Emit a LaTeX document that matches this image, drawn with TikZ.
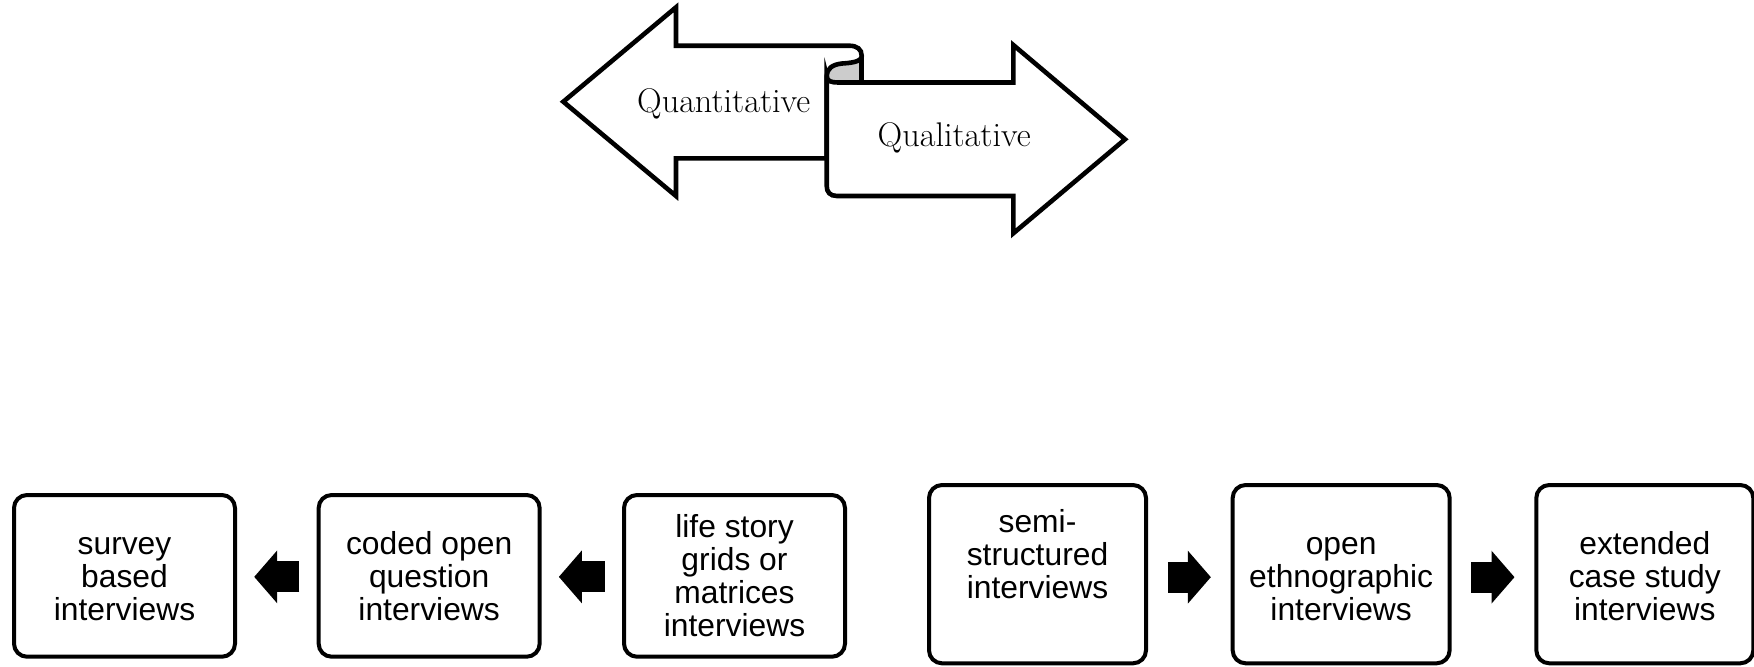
\documentclass[tikz,border=0pt]{standalone}
\usepackage{fontspec}
\setsansfont{Liberation Sans}
\usetikzlibrary{arrows.meta}

% struts that fix where the first and last text lines sit in a box
\newcommand\firststrut{\rule{0pt}{15pt}}
\newcommand\laststrut{\rule[-3.6pt]{0pt}{3.6pt}}
\newcommand\tallstrut{\rule[-1.6pt]{0pt}{1.6pt}}
\newcommand\deepstrut{\rule[-23.6pt]{0pt}{23.6pt}}

\begin{document}
\begin{tikzpicture}[
  x=0.5pt, y=-0.5pt,
  bigarrow/.style={draw=black, fill=white, line width=2.3pt, line join=miter},
  curlshade/.style={fill=black!20},
  bannertext/.style={anchor=base, inner sep=0pt, font=\fontsize{17.1}{20}\selectfont},
  stagebox/.style={draw=black, line width=2pt, rounded corners=6.5pt, fill=white,
    align=center, inner sep=0pt, font=\sffamily\fontsize{15.9}{16.5}\selectfont},
  lbox/.style={stagebox, minimum width=110.5pt, minimum height=80.85pt},
  rbox/.style={stagebox, minimum width=108.5pt, minimum height=89.15pt},
  blockarrow/.style={draw=black, line width=15.5pt,
    -{Triangle[width=25.8pt, length=11.5pt]}},
]
\useasboundingbox (0,0) rectangle (1754,666);

% ---- opposing banner arrows ----
% shaded inside of the rolled-over ribbon
\fill[curlshade] (826.7,76) .. controls (826.7,69) and (832,64.5) .. (842,63.5)
  .. controls (850,63) and (861.7,62) .. (861.7,56) -- (861.7,82.5) -- (838,82.5)
  .. controls (831,82.5) and (826.7,81) .. (826.7,76) -- cycle;
\draw[line width=2.3pt] (861.7,55) -- (861.7,83);

% left-pointing arrow with the curl at its tail
\draw[bigarrow] (676,45.7) -- (849,45.7)
  .. controls (857,45.7) and (861.7,49) .. (861.7,56)
  .. controls (861.7,62) and (850,63) .. (842,63.5)
  .. controls (832,64.5) and (826.7,69) .. (826.7,76)
  -- (826.7,158.3) -- (676,158.3) -- (676,196) -- (563.3,101.7) -- (676,7.3) -- cycle;

% right-pointing arrow
\draw[bigarrow] (826.7,76) .. controls (826.7,81) and (831,82.5) .. (838,82.5)
  -- (1013.3,82.5) -- (1013.3,45) -- (1125,139.3) -- (1013.3,233.3)
  -- (1013.3,196) -- (837,196) .. controls (830,196) and (826.7,192) .. (826.7,186) -- cycle;

\node[bannertext] (quant) at (723.7,112.7) {Quantitative};
\node[bannertext] (qual) at (954.2,146.7) {Qualitative};

% ---- interview types, towards the quantitative end ----
\node[lbox] (b1) at (124.5,575.85) {\firststrut survey\\based\\interviews\laststrut};
\node[lbox] (b2) at (429.15,575.85) {\firststrut coded open\\question\\interviews\laststrut};
\node[lbox] (b3) at (734.5,575.85) {\firststrut life story\\grids or\\matrices\\interviews\laststrut};

% ---- interview types, towards the qualitative end ----
\node[rbox] (b4) at (1037.5,574.15) {\firststrut semi-\\structured\\interviews\deepstrut};
\node[rbox] (b5) at (1341.15,574.15) {\firststrut open\\ethnographic\\interviews\tallstrut};
\node[rbox] (b6) at (1644.8,574.15) {\firststrut extended\\case study\\interviews\tallstrut};

% ---- block arrows between the boxes ----
\draw[blockarrow, shorten <=8.6pt, shorten >=8.6pt]
  ([yshift=-0.5pt]b2.west) -- ([yshift=-0.5pt]b1.east);
\draw[blockarrow, shorten <=8.6pt, shorten >=8.6pt]
  ([yshift=-0.5pt]b3.west) -- ([yshift=-0.5pt]b2.east);
\draw[blockarrow, shorten <=9.9pt, shorten >=9.9pt]
  ([yshift=-1.5pt]b4.east) -- ([yshift=-1.5pt]b5.west);
\draw[blockarrow, shorten <=9.9pt, shorten >=9.9pt]
  ([yshift=-1.5pt]b5.east) -- ([yshift=-1.5pt]b6.west);
\end{tikzpicture}
\end{document}
